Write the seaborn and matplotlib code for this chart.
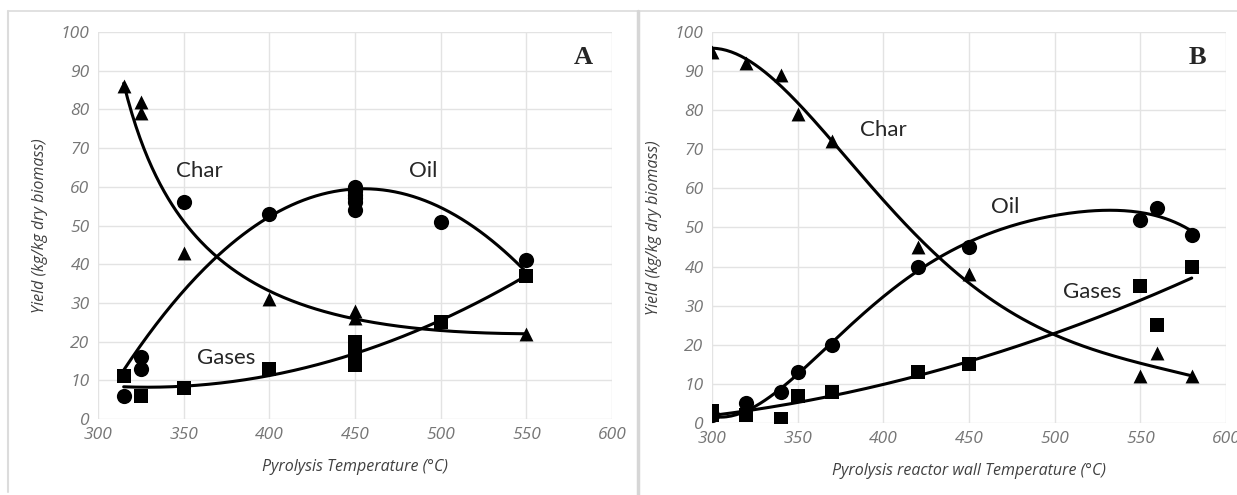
import numpy as np
import pandas as pd
import matplotlib
matplotlib.use("Agg")
import matplotlib.pyplot as plt
import seaborn as sns
from matplotlib.lines import Line2D

# ---- panel A: measured yields ----
a_char_x = [315, 325, 325, 350, 400, 450, 450, 550]
a_char_y = [86, 82, 79, 43, 31, 28, 26, 22]
a_oil_x = [315, 325, 325, 350, 400, 450, 450, 450, 450, 450, 450, 500, 550]
a_oil_y = [6, 16, 13, 56, 53, 60, 59, 58, 57, 56, 54, 51, 41]
a_gas_x = [315, 325, 350, 400, 450, 450, 450, 450, 500, 550]
a_gas_y = [11, 6, 8, 13, 20, 18, 16, 14, 25, 37]

# panel A: trendline values
a_char_tx = [315, 330, 350, 367, 400, 450, 500, 550]
a_char_ty = [86, 69, 50, 41, 33, 27.5, 23.5, 21]
a_oil_tx = [315, 350, 400, 455, 500, 550]
a_oil_ty = [12.7, 33, 52.3, 59.5, 54.7, 37.9]
a_gas_tx = [315, 350, 400, 450, 487, 550]
a_gas_ty = [8.3, 8.5, 11.4, 16.5, 23.3, 37]

# ---- panel B: measured yields ----
b_char_x = [300, 320, 340, 350, 370, 420, 450, 550, 560, 580]
b_char_y = [95, 92, 89, 79, 72, 45, 38, 12, 18, 12]
b_oil_x = [300, 320, 340, 350, 370, 420, 450, 550, 560, 580]
b_oil_y = [2, 5, 8, 13, 20, 40, 45, 52, 55, 48]
b_gas_x = [300, 300, 320, 340, 350, 370, 420, 450, 550, 560, 580]
b_gas_y = [3, 2, 2, 1, 7, 8, 13, 15, 35, 25, 40]

# panel B: trendline values
b_char_tx = [300, 320, 340, 350, 370, 400, 420, 450, 500, 550, 580]
b_char_ty = [96, 92.5, 87, 81.5, 72.5, 57, 46.5, 37, 22, 15.5, 12]
b_oil_tx = [300, 320, 350, 370, 400, 420, 450, 500, 538, 560, 580]
b_oil_ty = [1.5, 3.5, 12.8, 19.5, 32.5, 39.6, 46, 52.8, 54.5, 53, 49]
b_gas_tx = [300, 320, 350, 370, 420, 450, 500, 550, 580]
b_gas_ty = [1.5, 3, 5.5, 7.5, 12.5, 15.5, 22, 31.5, 37.4]

x_ticks = [300, 350, 400, 450, 500, 550, 600]
y_ticks = [0, 10, 20, 30, 40, 50, 60, 70, 80, 90, 100]

sns.set_style("white")
plt.rcParams["font.family"] = ["Open Sans", "DejaVu Sans"]

fig = plt.figure(figsize=(12.37, 4.95), dpi=100)
ax_a = fig.add_axes([0.0792, 0.1535, 0.4156, 0.7818])
ax_b = fig.add_axes([0.5756, 0.1455, 0.4155, 0.7899])


def trend(ax, tx, ty, deg, log_shift=None):
    # smooth polynomial trendline through the values;
    # log_shift fits against log(x - shift) for the steep decay curve
    tx = np.asarray(tx, float)
    xs = np.linspace(tx.min(), tx.max(), 200)
    if log_shift is None:
        poly = np.polynomial.Polynomial.fit(tx, ty, deg)
        ys = poly(xs)
    else:
        poly = np.polynomial.Polynomial.fit(np.log(tx - log_shift), ty, deg)
        ys = poly(np.log(xs - log_shift))
    df = pd.DataFrame({"x": xs, "y": ys})
    sns.lineplot(data=df, x="x", y="y", ax=ax, color="black", lw=2.2)


def points(ax, x, y, marker, size):
    df = pd.DataFrame({"x": x, "y": y})
    sns.scatterplot(data=df, x="x", y="y", ax=ax, marker=marker, s=size,
                    color="black", edgecolor="black", linewidth=0, zorder=3)


def style(ax, xlabel, tag):
    ax.set_xlim(300, 600)
    ax.set_ylim(0, 100)
    ax.set_xticks(x_ticks)
    ax.set_yticks(y_ticks)
    ax.grid(True, color="#e3e3e3", lw=1.0)
    ax.set_axisbelow(True)
    for s in ax.spines.values():
        s.set_visible(False)
    ax.tick_params(length=0, labelsize=12.5, labelcolor="#767676", pad=6)
    for lab in ax.get_xticklabels() + ax.get_yticklabels():
        lab.set_fontstyle("italic")
    ax.set_xlabel(xlabel, fontsize=11.5, style="italic", color="#404040", labelpad=11)
    ax.set_ylabel("Yield (kg/kg dry biomass)", fontsize=11.5, style="italic",
                  color="#404040", labelpad=9)
    ax.text(0.945, 0.935, tag, transform=ax.transAxes, ha="center", va="center",
            fontsize=19, fontweight="bold", family="Liberation Serif")


# panel A
trend(ax_a, a_char_tx, a_char_ty, 3, log_shift=295)
trend(ax_a, a_oil_tx, a_oil_ty, 2)
trend(ax_a, a_gas_tx, a_gas_ty, 3)
points(ax_a, a_char_x, a_char_y, "^", 100)
points(ax_a, a_oil_x, a_oil_y, "o", 120)
points(ax_a, a_gas_x, a_gas_y, "s", 105)
style(ax_a, "Pyrolysis Temperature (°C)", "A")
ax_a.text(359, 64, "Char", fontsize=16, family="Lato", ha="center", va="center")
ax_a.text(490, 64, "Oil", fontsize=16, family="Lato", ha="center", va="center")
ax_a.text(375, 15.7, "Gases", fontsize=16, family="Lato", ha="center", va="center")

# panel B
trend(ax_b, b_char_tx, b_char_ty, 5)
trend(ax_b, b_oil_tx, b_oil_ty, 5)
trend(ax_b, b_gas_tx, b_gas_ty, 2)
points(ax_b, b_char_x, b_char_y, "^", 100)
points(ax_b, b_oil_x, b_oil_y, "o", 120)
points(ax_b, b_gas_x, b_gas_y, "s", 105)
style(ax_b, "Pyrolysis reactor wall Temperature (°C)", "B")
ax_b.text(400, 75, "Char", fontsize=16, family="Lato", ha="center", va="center")
ax_b.text(471, 55.3, "Oil", fontsize=16, family="Lato", ha="center", va="center")
ax_b.text(522, 33.6, "Gases", fontsize=16, family="Lato", ha="center", va="center")

# light panel frames around the two figures
W, H = 1237, 495
fig.add_artist(Line2D([8 / W, 1], [1 - 11 / H, 1 - 11 / H], color="#dcdcdc", lw=1.2))
fig.add_artist(Line2D([8 / W, 8 / W], [1 - 11 / H, 1 - 492 / H], color="#dcdcdc", lw=1.5))
fig.add_artist(Line2D([638 / W, 638 / W], [1 - 11 / H, 0], color="#d6d6d6", lw=2.5))

fig.savefig("out.png", dpi=100, facecolor="white")
